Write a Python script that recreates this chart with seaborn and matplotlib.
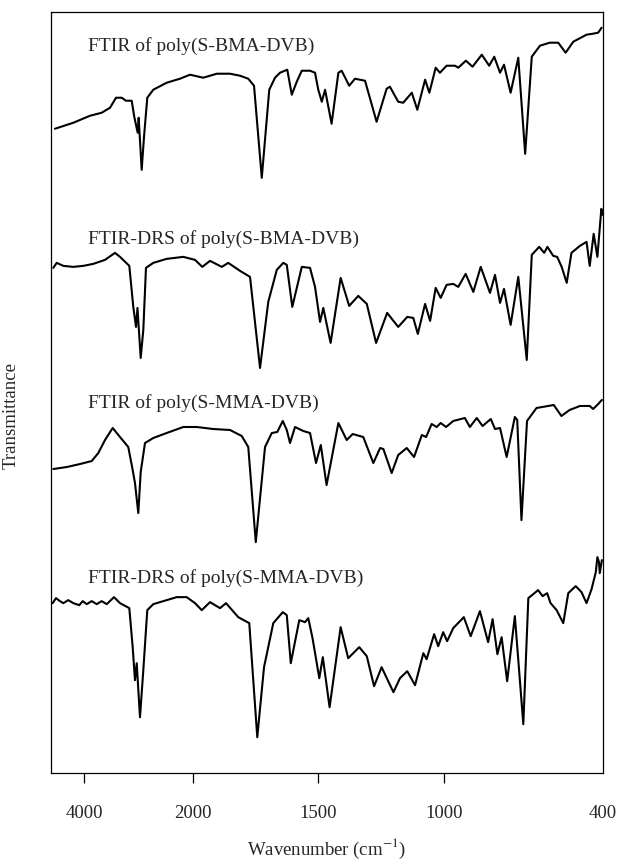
import numpy as np
import pandas as pd
import matplotlib
matplotlib.use("Agg")
import matplotlib.pyplot as plt
import seaborn as sns

# ---------------- data (wavenumber in cm-1, transmittance in arbitrary offset units) -------------
s1_wn = [4538, 4202, 3895, 3681, 3528, 3418, 3314, 3235, 3130, 3083, 3020, 3002, 2947, 2904, 2844,
         2734, 2488, 2244, 2060, 1960, 1906, 1853, 1813, 1780, 1757, 1726, 1696, 1673, 1653, 1624,
         1606, 1586, 1566, 1533, 1513, 1500, 1486, 1473, 1447, 1420, 1407, 1377, 1354, 1314, 1268,
         1228, 1215, 1182, 1162, 1128, 1106, 1075, 1058, 1033, 1016, 990, 958, 946, 917, 892, 857,
         829, 810, 788, 773, 748, 719, 693, 668, 637, 600, 568, 540, 511, 461, 436, 417, 404]
s1_tr = [644, 650, 657, 660, 665, 675, 675, 672, 672, 656, 640, 655, 603, 636, 675,
         683, 690, 694, 698, 695, 699, 699, 697, 694, 687, 595, 683, 695, 700, 703,
         678, 691, 702, 702, 700, 683, 671, 683, 649, 700, 702, 687, 694, 692, 651,
         684, 686, 671, 670, 680, 663, 693, 680, 705, 700, 707, 707, 705, 712, 706, 718,
         707, 716, 700, 708, 680, 715, 619, 716, 727, 730, 730, 720, 731, 738, 739, 740, 745]

s2_wn = [4569, 4506, 4385, 4202, 4018, 3835, 3620, 3437, 3345, 3174, 3101, 3051, 3024, 2965, 2917,
         2868, 2734, 2488, 2183, 1993, 1964, 1933, 1886, 1860, 1813, 1773, 1733, 1700, 1666, 1640,
         1626, 1604, 1566, 1533, 1513, 1493, 1480, 1451, 1411, 1377, 1341, 1307, 1270, 1226, 1182,
         1146, 1122, 1104, 1075, 1055, 1033, 1013, 990, 965, 946, 918, 889, 861, 826, 807, 788,
         773, 748, 719, 687, 668, 640, 621, 609, 587, 572, 555, 536, 518, 486, 461, 449, 434,
         420, 405, 399]
s2_tr = [505, 510, 507, 506, 507, 509, 513, 520, 516, 507, 466, 446, 465, 415, 443,
         505, 510, 514, 516, 513, 506, 512, 506, 510, 502, 496, 405, 471, 503, 510,
         508, 466, 506, 505, 486, 451, 465, 430, 495, 467, 477, 469, 430, 460, 446,
         456, 455, 439, 469, 452, 485, 475, 488, 489, 486, 499, 481, 506, 480, 498, 470,
         484, 448, 496, 413, 518, 526, 520, 526, 517, 516, 506, 490, 520, 527, 531, 507, 539,
         516, 564, 558]

s3_wn = [4569, 4323, 4079, 3864, 3743, 3620, 3479, 3345, 3193, 3112, 3070, 3009, 2965, 2886, 2734,
         2488, 2183, 1986, 1920, 1853, 1806, 1780, 1750, 1713, 1686, 1664, 1642, 1626, 1613, 1593,
         1560, 1533, 1509, 1490, 1467, 1420, 1387, 1363, 1321, 1281, 1254, 1241, 1208, 1182, 1148,
         1119, 1088, 1071, 1049, 1029, 1013, 992, 965, 921, 902, 876, 854, 823, 807, 788,
         763, 732, 723, 707, 686, 650, 606, 585, 556, 525, 486, 449, 436, 417, 403]
s3_tr = [304, 306, 309, 312, 320, 333, 345, 336, 326, 303, 290, 260, 301, 330, 335,
         340, 346, 346, 344, 343, 337, 326, 231, 326, 340, 341, 352, 343, 330, 346,
         342, 340, 310, 328, 288, 350, 333, 339, 336, 310, 325, 324, 300, 318, 325,
         316, 338, 336, 349, 346, 350, 346, 352, 355, 346, 355, 347, 354, 344, 345,
         316, 356, 353, 253, 352, 365, 367, 368, 357, 363, 367, 367, 364, 369, 373]

s4_wn = [4580, 4519, 4446, 4385, 4294, 4202, 4092, 4029, 3956, 3864, 3772, 3681, 3589, 3455, 3345,
         3174, 3112, 3070, 3038, 2978, 2917, 2844,
         2734, 2488, 2304, 2121, 1993, 1966, 1933, 1893, 1869, 1820, 1776, 1744, 1717, 1680, 1642,
         1626, 1610, 1576, 1553, 1540, 1523, 1496, 1482, 1455, 1411, 1381, 1337, 1307, 1278, 1248,
         1201, 1175, 1146, 1115, 1082, 1069, 1039, 1023, 1003, 988, 965, 925, 899, 864, 833, 816,
         798, 782, 761, 732, 700, 681, 644, 627, 610, 597, 574, 549, 530, 502, 480, 461, 442,
         426, 420, 414, 411, 403]
s4_tr = [170, 175, 172, 170, 173, 170, 168, 172, 169, 172, 169, 172, 169, 176, 170,
         165, 126, 93, 110, 56, 103, 163,
         169, 173, 176, 176, 170, 163, 171, 165, 170, 156, 150, 36, 106, 150, 161,
         158, 110, 153, 151, 155, 135, 95, 116, 66, 146, 115, 126, 117, 87, 106,
         81, 95, 102, 88, 120, 114, 139, 127, 141, 132, 145, 156, 137, 162, 131, 154,
         119, 136, 92, 157, 49, 175, 183, 177, 180, 170, 163, 150, 180, 187, 181, 170, 184,
         201, 216, 211, 200, 213]

names = ["FTIR of poly(S-BMA-DVB)", "FTIR-DRS of poly(S-BMA-DVB)",
         "FTIR of poly(S-MMA-DVB)", "FTIR-DRS of poly(S-MMA-DVB)"]
tick_values = [4000, 2000, 1500, 1000]
tick_labels = ["4000", "2000", "1500", "1000"]
end_value = 400
end_label = "400"

# ---------------- build table ----------------
frames = []
for name, wn, tr in zip(names, [s1_wn, s2_wn, s3_wn, s4_wn], [s1_tr, s2_tr, s3_tr, s4_tr]):
    frames.append(pd.DataFrame({"wavenumber": wn, "transmittance": tr, "spectrum": name}))
df = pd.concat(frames, ignore_index=True)

# ---------------- piecewise (broken) wavenumber axis, increasing transform ----------------
_wn_knots = np.array([400.0, 1000.0, 1500.0, 2000.0, 4000.0, 4611.0])
_pos_knots = np.array([0.0, 0.2877, 0.5155, 0.7421, 0.9396, 1.0])


def fwd(w):
    return np.interp(np.asarray(w, dtype=float), _wn_knots, _pos_knots)


def inv(p):
    return np.interp(np.asarray(p, dtype=float), _pos_knots, _wn_knots)


# ---------------- figure ----------------
sns.set_style("ticks")
plt.rcParams["font.family"] = ["Liberation Serif", "DejaVu Serif"]
plt.rcParams["mathtext.fontset"] = "stix"

fig = plt.figure(figsize=(6.18, 8.64), dpi=100)
ax = fig.add_axes([0.0825, 0.105, 0.8927, 0.8815])

for name in names:
    sns.lineplot(data=df[df["spectrum"] == name], x="wavenumber", y="transmittance",
                 sort=False, estimator=None, color="black", linewidth=1.5, ax=ax)

ax.set_xscale("function", functions=(fwd, inv))
ax.set_xlim(4611, 400)
ax.set_ylim(0, 761)

ax.set_xticks(tick_values)
ax.set_xticklabels(tick_labels)
ax.set_xticks([end_value], minor=True)
ax.set_xticklabels([end_label], minor=True)
ax.tick_params(axis="x", which="major", direction="out", length=7.5, width=0.9,
               pad=15, labelsize=13.5, color="black")
ax.tick_params(axis="x", which="minor", length=0, pad=22.5, labelsize=13.5)
ax.set_yticks([])

for sp in ax.spines.values():
    sp.set_visible(True)
    sp.set_color("black")
    sp.set_linewidth(0.9)

ax.set_xlabel("Wavenumber (cm$^{-1}$)", fontsize=13.5, labelpad=11)
ax.set_ylabel("Transmittance", fontsize=13.5)
ax.yaxis.set_label_coords(-0.056, 0.47)

label_y = [0.955, 0.701, 0.486, 0.256]
for name, yy in zip(names, label_y):
    ax.text(0.068, yy, name, transform=ax.transAxes, fontsize=14, va="center", ha="left")

fig.savefig("out.png", dpi=100)
